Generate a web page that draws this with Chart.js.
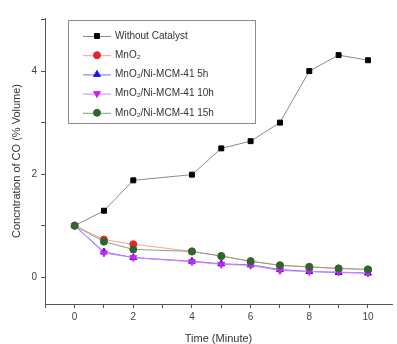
<!DOCTYPE html>
<html><head><meta charset="utf-8">
<script src="https://cdn.jsdelivr.net/npm/chart.js@4/dist/chart.umd.min.js"></script>
<style>html,body{margin:0;padding:0;background:#fff}#wrap{width:397px;height:344px}</style>
</head><body><div id="wrap"><canvas id="c" width="397" height="344"></canvas></div>
<script>
const timeMin = [0, 1, 2, 4, 5, 6, 7, 8, 9, 10];
const seriesNames = ["Without Catalyst", "MnO\u2082", "MnO\u2082/Ni-MCM-41 5h", "MnO\u2082/Ni-MCM-41 10h", "MnO\u2082/Ni-MCM-41 15h"];
const withoutCatalyst = [1.0, 1.29, 1.88, 1.99, 2.5, 2.64, 3.0, 4.0, 4.31, 4.21];
const mno2 = [1.0, 0.73, 0.64, 0.5, 0.41, 0.31, 0.23, 0.2, 0.17, 0.15];
const mno2Ni5h = [1.0, 0.49, 0.38, 0.31, 0.26, 0.24, 0.15, 0.11, 0.09, 0.08];
const mno2Ni10h = [1.0, 0.47, 0.38, 0.3, 0.25, 0.23, 0.13, 0.11, 0.1, 0.08];
const mno2Ni15h = [1.0, 0.69, 0.54, 0.5, 0.41, 0.31, 0.23, 0.2, 0.17, 0.15];
const yTickLabels = [0, 2, 4];
const xTickLabels = [0, 2, 4, 6, 8, 10];

const styles = [
  {line:'#8a8a8a', point:'#000000', ps:'rect', rot:0, r:3.5},
  {line:'#ff9c9c', point:'#e02828', ps:'circle', rot:0, r:3.5},
  {line:'#7070ff', point:'#1818e8', ps:'triangle', rot:0, r:4},
  {line:'#d77cff', point:'#cc22ee', ps:'triangle', rot:180, r:4},
  {line:'#7aa87a', point:'#2f662f', ps:'circle', rot:0, r:3.5}
];
const values = [withoutCatalyst, mno2, mno2Ni5h, mno2Ni10h, mno2Ni15h];
const datasets = values.map((v, i) => ({
  label: seriesNames[i],
  data: v.map((y, k) => ({x: timeMin[k], y})),
  borderColor: styles[i].line,
  borderWidth: 1,
  backgroundColor: styles[i].point,
  pointBackgroundColor: styles[i].point,
  pointBorderColor: styles[i].point,
  pointBorderWidth: 1,
  pointStyle: styles[i].ps,
  pointRotation: styles[i].rot,
  pointRadius: styles[i].r,
  order: 5 - i,
  tension: 0
}));

const legendPlugin = {
  id: 'boxLegend',
  afterDraw(chart) {
    const ctx = chart.ctx;
    ctx.save();
    const bx = 68, by = 20, bw = 187, bh = 103;
    ctx.fillStyle = '#fff';
    ctx.fillRect(bx, by, bw, bh);
    ctx.strokeStyle = '#8c8c8c';
    ctx.lineWidth = 1;
    ctx.strokeRect(bx + 0.5, by + 0.5, bw, bh);
    ctx.font = '10px "Liberation Sans", Arial, sans-serif';
    ctx.textBaseline = 'middle';
    chart.data.datasets.forEach((ds, i) => {
      const y = 36 + i * 19.2;
      ctx.strokeStyle = ds.borderColor;
      ctx.lineWidth = 1;
      ctx.beginPath(); ctx.moveTo(83, y + 0.5); ctx.lineTo(111, y + 0.5); ctx.stroke();
      ctx.fillStyle = ds.pointBackgroundColor;
      ctx.strokeStyle = ds.pointBorderColor;
      Chart.helpers.drawPoint(ctx, {pointStyle: ds.pointStyle, radius: ds.pointRadius, rotation: ds.pointRotation, borderWidth: 1}, 97, y);
      ctx.fillStyle = '#333';
      ctx.fillText(ds.label, 115, y);
    });
    ctx.restore();
  }
};

const intTicks = (axis) => {
  const out = [];
  for (let v = Math.ceil(axis.min); v <= Math.floor(axis.max); v++) out.push({value: v});
  axis.ticks = out;
};

new Chart(document.getElementById('c'), {
  type: 'line',
  data: {datasets},
  plugins: [legendPlugin],
  options: {
    responsive: false,
    animation: false,
    devicePixelRatio: 1,
    layout: {padding: {top: 18, right: 0, left: 0, bottom: 0}},
    plugins: {legend: {display: false}, tooltip: {enabled: false}},
    scales: {
      x: {
        type: 'linear', min: -1.01, max: 10.82,
        afterFit: (s) => { s.height = 40; s.paddingRight = 0; s.paddingLeft = 0; },
        afterBuildTicks: intTicks,
        border: {display: true, color: '#555', width: 1},
        grid: {drawOnChartArea: false, drawTicks: true, tickLength: 4, tickColor: '#555'},
        ticks: {stepSize: 1, padding: 3, color: '#444', font: {size: 10, family: '"Liberation Sans", Arial'}, maxRotation: 0, autoSkip: false,
          callback: (v) => xTickLabels.includes(v) ? String(v) : ''},
        title: {display: true, text: 'Time (Minute)', color: '#333', font: {size: 11, family: '"Liberation Sans", Arial'}, padding: {top: 0, bottom: -2}}
      },
      y: {
        type: 'linear', min: -0.52, max: 5.03,
        afterFit: (s) => { s.width = 45; s.paddingTop = 0; s.paddingBottom = 0; },
        afterBuildTicks: intTicks,
        border: {display: true, color: '#555', width: 1},
        grid: {drawOnChartArea: false, drawTicks: true, tickLength: 4, tickColor: '#555'},
        ticks: {stepSize: 1, padding: 4, color: '#444', font: {size: 10, family: '"Liberation Sans", Arial'}, autoSkip: false,
          callback: (v) => yTickLabels.includes(v) ? String(v) : ''},
        title: {display: true, text: 'Concntration of CO (% Volume)', color: '#333', font: {size: 11, family: '"Liberation Sans", Arial'}, padding: {top: 10, bottom: 0}}
      }
    }
  }
});
</script></body></html>
